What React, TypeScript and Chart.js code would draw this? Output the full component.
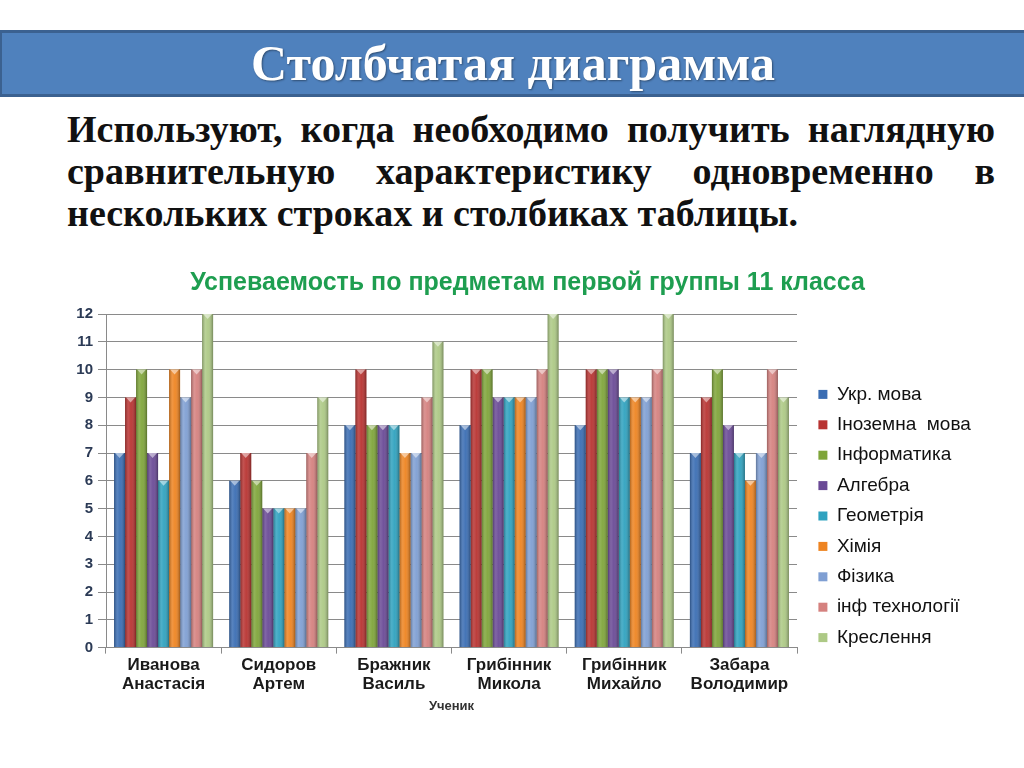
import React, { useEffect, useRef } from "react";
import { Chart, registerables } from "chart.js";

Chart.register(...registerables);

const headerTitle = "Столбчатая диаграмма";
const paragraphLines = [
  "Используют, когда необходимо получить наглядную",
  "сравнительную характеристику одновременно в",
  "нескольких строках и столбиках таблицы.",
];
const chartTitle = "Успеваемость по предметам первой группы 11 класса";
const xAxisTitle = "Ученик";

const students = [
  ["Иванова", "Анастасія"],
  ["Сидоров", "Артем"],
  ["Бражник", "Василь"],
  ["Грибінник", "Микола"],
  ["Грибінник", "Михайло"],
  ["Забара", "Володимир"],
];

const subjects = [
  "Укр. мова",
  "Іноземна  мова",
  "Інформатика",
  "Алгебра",
  "Геометрія",
  "Хімія",
  "Фізика",
  "інф технології",
  "Креслення",
];

const ukrMova = [7, 6, 8, 8, 8, 7];
const inozemnaMova = [9, 7, 10, 10, 10, 9];
const informatyka = [10, 6, 8, 10, 10, 10];
const algebra = [7, 5, 8, 9, 10, 8];
const geometriya = [6, 5, 8, 9, 9, 7];
const khimiya = [10, 5, 7, 9, 9, 6];
const fizyka = [9, 5, 7, 9, 9, 7];
const infTekhnologii = [10, 7, 9, 10, 10, 10];
const kreslennya = [12, 9, 11, 12, 12, 9];

const seriesValues = [
  ukrMova,
  inozemnaMova,
  informatyka,
  algebra,
  geometriya,
  khimiya,
  fizyka,
  infTekhnologii,
  kreslennya,
];

const colors = [
  "#3A6DB3",
  "#B83331",
  "#7FA53A",
  "#6A4A96",
  "#2FA2BF",
  "#EE8421",
  "#7F9FD3",
  "#D5817F",
  "#ADC985",
];

const yTicks = [0, 1, 2, 3, 4, 5, 6, 7, 8, 9, 10, 11, 12];

const LEGEND_WIDTH = 190;
const LEGEND_GAP = 10;

const shadePlugin = {
  id: "shade",
  beforeLayout(chart: any) {
    const lg = chart.legend;
    if (lg && !lg._fixedWidth) {
      const orig = lg.fit.bind(lg);
      lg.fit = function () {
        orig();
        this.width = LEGEND_WIDTH;
      };
      lg._fixedWidth = true;
    }
  },
  beforeDraw(chart: any) {
    const lg = chart.legend;
    if (lg) {
      lg.left = chart.chartArea.right + LEGEND_GAP;
      lg.right = lg.left + LEGEND_WIDTH - LEGEND_GAP;
      lg.width = LEGEND_WIDTH - LEGEND_GAP;
    }
  },
  afterDatasetsDraw(chart: any) {
    const ctx = chart.ctx;
    const area = chart.chartArea;
    ctx.save();
    ctx.beginPath();
    ctx.rect(area.left, area.top - 1, area.right - area.left, area.bottom - area.top + 1);
    ctx.clip();
    chart.data.datasets.forEach((_ds: any, i: number) => {
      const meta = chart.getDatasetMeta(i);
      if (meta.hidden) return;
      meta.data.forEach((bar: any) => {
        const { x, y, base, width } = bar.getProps(["x", "y", "base", "width"], true);
        const l = x - width / 2;
        const r = x + width / 2;
        const g = ctx.createLinearGradient(l, 0, r, 0);
        g.addColorStop(0, "rgba(0,0,0,0.28)");
        g.addColorStop(0.3, "rgba(255,255,255,0.15)");
        g.addColorStop(0.55, "rgba(255,255,255,0.05)");
        g.addColorStop(1, "rgba(0,0,0,0.32)");
        ctx.fillStyle = g;
        ctx.fillRect(l, y, width, base - y);
        ctx.beginPath();
        ctx.moveTo(l + 1, y);
        ctx.lineTo(r - 1, y);
        ctx.lineTo(x, y + 5);
        ctx.closePath();
        ctx.fillStyle = "rgba(255,255,255,0.5)";
        ctx.fill();
      });
    });
    ctx.restore();
  },
};

const FONT = "Liberation Sans, Arial, sans-serif";

export default function App() {
  const canvasRef = useRef<HTMLCanvasElement | null>(null);

  useEffect(() => {
    document.body.style.margin = "0";
    const canvas = canvasRef.current;
    if (!canvas) return;
    const chart = new Chart(canvas, {
      type: "bar",
      data: {
        labels: students,
        datasets: subjects.map((name, i) => ({
          label: name,
          data: seriesValues[i],
          backgroundColor: colors[i],
          borderWidth: 0,
          categoryPercentage: 0.86,
          barPercentage: 1.0,
        })),
      },
      options: {
        responsive: false,
        animation: false,
        devicePixelRatio: 1,
        layout: { padding: 0 },
        plugins: {
          title: {
            display: true,
            text: chartTitle,
            color: "#1E9E50",
            font: { family: FONT, size: 25, weight: "bold" },
            padding: { top: 6, bottom: 16 },
          },
          legend: {
            position: "right",
            align: "center",
            title: {
              display: true,
              text: " ",
              font: { size: 10 },
              padding: { top: 44, bottom: 0 },
            },
            labels: {
              boxWidth: 9,
              boxHeight: 9,
              padding: 11.4,
              color: "#111111",
              font: { family: FONT, size: 19 },
            },
          },
          tooltip: { enabled: false },
        },
        scales: {
          x: {
            grid: {
              display: true,
              drawOnChartArea: false,
              drawTicks: true,
              tickLength: 6,
              offset: true,
              color: "#8a8a8a",
            },
            border: { display: true, color: "#8a8a8a" },
            ticks: {
              color: "#1a1a1a",
              maxRotation: 0,
              autoSkip: false,
              padding: 2.5,
              font: { family: FONT, size: 17, weight: "bold", lineHeight: 1.12 },
            },
            title: {
              display: true,
              text: xAxisTitle,
              color: "#333333",
              font: { family: FONT, size: 13, weight: "bold" },
              padding: { top: 1.7, bottom: 0 },
            },
          },
          y: {
            min: 0,
            max: 12,
            afterBuildTicks: (scale: any) => {
              scale.ticks = yTicks.map((v) => ({ value: v }));
            },
            afterFit: (scale: any) => {
              scale.width = 38;
            },
            grid: {
              color: "#8a8a8a",
              tickLength: 8,
              drawTicks: true,
            },
            border: { display: true, color: "#8a8a8a" },
            ticks: {
              color: "#2B3A55",
              padding: 5,
              font: { family: FONT, size: 15, weight: "bold" },
            },
          },
        },
      },
      plugins: [shadePlugin],
    } as any);
    return () => chart.destroy();
  }, []);

  const serif = "'Liberation Serif', 'Times New Roman', serif";

  return (
    <div style={{ position: "relative", width: 1024, height: 768, background: "#ffffff", overflow: "hidden" }}>
      <div
        style={{
          position: "absolute",
          left: 0,
          top: 30,
          width: 1024,
          height: 67,
          boxSizing: "border-box",
          background: "#4F81BD",
          borderTop: "3px solid #3B6190",
          borderBottom: "3px solid #3B6190",
          borderLeft: "2px solid #3B6190",
        }}
      >
        <div
          style={{
            position: "absolute",
            left: 0,
            right: 0,
            top: 1,
            textAlign: "center",
            color: "#ffffff",
            fontFamily: serif,
            fontWeight: "bold",
            fontSize: 50,
            lineHeight: "58px",
            textShadow: "1px 1px 2px rgba(0,0,0,0.4)",
          }}
        >
          {headerTitle}
        </div>
      </div>
      <div
        style={{
          position: "absolute",
          left: 67,
          top: 108,
          width: 928,
          fontFamily: serif,
          fontWeight: "bold",
          fontSize: 38,
          lineHeight: "42px",
          color: "#111111",
        }}
      >
        {paragraphLines.map((line, i) => (
          <div
            key={i}
            style={{
              textAlign: i < paragraphLines.length - 1 ? "justify" : "left",
              textAlignLast: i < paragraphLines.length - 1 ? "justify" : "left",
              whiteSpace: "nowrap",
            }}
          >
            {line}
          </div>
        ))}
      </div>
      <canvas
        ref={canvasRef}
        width={919}
        height={452}
        style={{ position: "absolute", left: 68, top: 262, width: 919, height: 452 }}
      />
    </div>
  );
}
